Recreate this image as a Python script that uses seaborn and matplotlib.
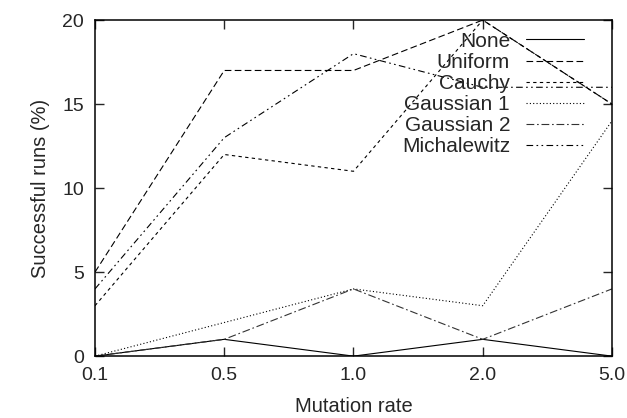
import numpy as np
import pandas as pd
import matplotlib
matplotlib.use("Agg")
import matplotlib.pyplot as plt
import seaborn as sns

# data
rates = ["0.1", "0.5", "1.0", "2.0", "5.0"]
none_ = [0, 1, 0, 1, 0]
uniform = [5, 17, 17, 20, 15]
cauchy = [3, 12, 11, 20, 15]
gauss1 = [0, 2, 4, 3, 14]
gauss2 = [0, 1, 4, 1, 4]
michalewitz = [4, 13, 18, 16, 16]

series = {
    "None": none_,
    "Uniform": uniform,
    "Cauchy": cauchy,
    "Gaussian 1": gauss1,
    "Gaussian 2": gauss2,
    "Michalewitz": michalewitz,
}

rows = []
for name, vals in series.items():
    for i, v in enumerate(vals):
        rows.append({"pos": i, "rate": rates[i], "value": v, "method": name})
df = pd.DataFrame(rows)

sns.set_style("ticks")
plt.rcParams["font.family"] = ["Liberation Sans", "DejaVu Sans"]

dashes = {
    "None": "",
    "Uniform": (6, 3),
    "Cauchy": (3, 3),
    "Gaussian 1": (1, 2),
    "Gaussian 2": (7, 2.5, 1.5, 2.5),
    "Michalewitz": (6, 3, 1.5, 3, 1.5, 3),
}
palette = {k: "black" for k in series}
palette["Gaussian 2"] = "#333333"

fig = plt.figure(figsize=(6.27, 4.18), dpi=100)
ax = fig.add_axes([0.1515, 0.148, 0.8245, 0.804])

sns.lineplot(data=df, x="pos", y="value", hue="method", style="method",
             dashes=dashes, palette=palette, linewidth=0.8, ax=ax)

ax.set_xlim(0, len(rates) - 1)
ax.set_ylim(0, 20)
ax.set_xticks(range(len(rates)))
ax.set_xticklabels(rates)
ax.set_yticks([0, 5, 10, 15, 20])
ax.tick_params(direction="in", length=6.5, width=1, labelsize=14,
               top=True, right=True, pad=8)
for s in ax.spines.values():
    s.set_linewidth(1.1)
    s.set_color("black")

ax.set_xlabel("Mutation rate", fontsize=14.5, labelpad=9)
ax.set_ylabel("Successful runs (%)", fontsize=14.5, labelpad=9)

leg = ax.legend(loc="upper right", frameon=False, markerfirst=False,
                fontsize=15, handlelength=2.8, labelspacing=0.1,
                handletextpad=0.75, borderaxespad=0.0,
                bbox_to_anchor=(0.962, 0.99))

fig.savefig("out.png", dpi=100)
